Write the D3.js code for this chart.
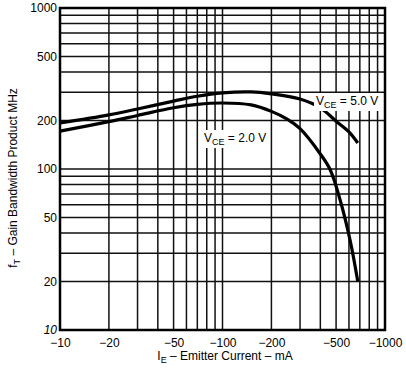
<!DOCTYPE html>
<html>
<head>
<meta charset="utf-8">
<script src="https://cdn.jsdelivr.net/npm/d3@7"></script>
<style>
  html, body { margin: 0; padding: 0; background: #fff; }
  svg { display: block; font-family: "Liberation Sans", Arial, sans-serif; }
</style>
</head>
<body>
<svg id="chart" width="406" height="371"></svg>
<script>
// Emitter current (mA, magnitude) and gain-bandwidth product (MHz)
const currentVce5 = [10, 20, 30, 50, 70, 100, 150, 200, 300, 400, 460, 500, 600, 680];
const ftVce5      = [193, 217, 236, 264, 283, 297, 301, 293, 272, 240, 214, 198, 170, 145];

const currentVce2 = [10, 20, 30, 50, 70, 100, 150, 200, 250, 300, 400, 460, 530, 610, 680];
const ftVce2      = [172, 197, 215, 240, 252, 257, 250, 228, 204, 178, 124, 99, 64, 36, 20];

const xTickValues = [10, 20, 50, 100, 200, 500, 1000];
const xTickLabels = ["\u221210", "\u221220", "\u221250", "\u2212100", "\u2212200", "\u2212500", "\u22121000"];
const yTickValues = [10, 20, 50, 100, 200, 500, 1000];
const yTickLabels = ["10", "20", "50", "100", "200", "500", "1000"];

const svg = d3.select("#chart");
const plotLeft = 60, plotRight = 385, plotTop = 8, plotBottom = 330;

const x = d3.scaleLog().domain([10, 1000]).range([plotLeft, plotRight]);
const y = d3.scaleLog().domain([10, 1000]).range([plotBottom, plotTop]);

// full log grid: 1..9 in each decade
const gridVals = [];
for (const dec of [10, 100]) for (let k = 1; k <= 9; k++) gridVals.push(dec * k);
gridVals.push(1000);

const grid = svg.append("g").attr("stroke", "#111").attr("stroke-width", 1.5);
grid.selectAll("line.v").data(gridVals).join("line")
  .attr("class", "v")
  .attr("x1", d => x(d)).attr("x2", d => x(d))
  .attr("y1", plotTop).attr("y2", plotBottom);
grid.selectAll("line.h").data(gridVals).join("line")
  .attr("class", "h")
  .attr("y1", d => y(d)).attr("y2", d => y(d))
  .attr("x1", plotLeft).attr("x2", plotRight);

// curves
const line = d3.line()
  .x(d => x(d[0])).y(d => y(d[1]))
  .curve(d3.curveCatmullRom.alpha(0.5));

const s5 = currentVce5.map((c, i) => [c, ftVce5[i]]);
const s2 = currentVce2.map((c, i) => [c, ftVce2[i]]);

svg.append("path").datum(s5).attr("d", line)
  .attr("fill", "none").attr("stroke", "#000").attr("stroke-width", 3.2);
svg.append("path").datum(s2).attr("d", line)
  .attr("fill", "none").attr("stroke", "#000").attr("stroke-width", 3.2);

// frame
svg.append("rect").attr("x", plotLeft).attr("y", plotTop)
  .attr("width", plotRight - plotLeft).attr("height", plotBottom - plotTop)
  .attr("fill", "none").attr("stroke", "#000").attr("stroke-width", 2.5);

// curve labels on white patches
function vceLabel(px, py, value) {
  const g = svg.append("g");
  const t = g.append("text").attr("x", px).attr("y", py)
    .attr("font-size", 12).attr("fill", "#000");
  t.append("tspan").text("V");
  t.append("tspan").attr("font-size", 9).attr("dy", 3).text("CE");
  t.append("tspan").attr("dy", -3).text(" = " + value + " V");
  const bb = t.node().getBBox();
  g.insert("rect", "text")
    .attr("x", bb.x - 2).attr("y", bb.y - 1)
    .attr("width", bb.width + 4).attr("height", bb.height + 2)
    .attr("fill", "#fff");
}
vceLabel(316, 105, "5.0");
vceLabel(204, 142, "2.0");

// axes
const xAxis = d3.axisBottom(x).tickValues(xTickValues)
  .tickFormat((d, i) => xTickLabels[i]).tickSize(0).tickPadding(8);
svg.append("g").attr("transform", `translate(0,${plotBottom})`).call(xAxis)
  .call(g => g.select(".domain").remove())
  .selectAll("text").attr("font-size", 12).attr("fill", "#000")
  .attr("font-family", "Liberation Sans, Arial, sans-serif");

const yAxis = d3.axisLeft(y).tickValues(yTickValues)
  .tickFormat((d, i) => yTickLabels[i]).tickSize(0).tickPadding(3);
svg.append("g").attr("transform", `translate(${plotLeft},0)`).call(yAxis)
  .call(g => g.select(".domain").remove())
  .selectAll("text").attr("font-size", 12).attr("fill", "#000")
  .attr("font-family", "Liberation Sans, Arial, sans-serif")
  .attr("font-style", d => d === 10 ? "italic" : null);

// axis titles
const xt = svg.append("text").attr("x", 225).attr("y", 360)
  .attr("text-anchor", "middle").attr("font-size", 12).attr("fill", "#000");
xt.append("tspan").text("I");
xt.append("tspan").attr("font-size", 9).attr("dy", 3).text("E");
xt.append("tspan").attr("dy", -3).text(" \u2013 Emitter Current \u2013 mA");

const yt = svg.append("text")
  .attr("transform", "translate(17,178) rotate(-90)")
  .attr("text-anchor", "middle").attr("font-size", 12).attr("fill", "#000");
yt.append("tspan").text("f");
yt.append("tspan").attr("font-size", 9).attr("dy", 3).text("T");
yt.append("tspan").attr("dy", -3).text(" \u2013 Gain Bandwidth Product   MHz");
</script>
</body>
</html>
